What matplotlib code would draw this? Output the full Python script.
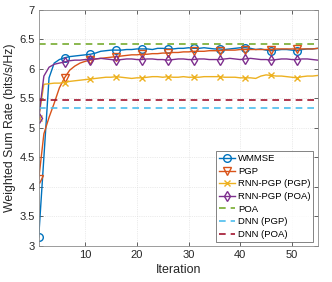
import numpy as np
import matplotlib
matplotlib.use("Agg")
import matplotlib.pyplot as plt

plt.rcParams["font.family"] = ["Liberation Sans", "DejaVu Sans"]

# ---------------------------------------------------------------------------
# data (one value per iteration, 1..55)
iterations = np.arange(1, 56)

wmmse = [3.15, 4.50, 5.85, 6.10, 6.16, 6.19, 6.21, 6.22, 6.23, 6.24,
         6.25, 6.27, 6.30, 6.31, 6.32, 6.32, 6.32, 6.33, 6.33, 6.34,
         6.34, 6.34, 6.33, 6.35, 6.35, 6.34, 6.34, 6.35, 6.35, 6.36,
         6.35, 6.35, 6.36, 6.35, 6.34, 6.34, 6.33, 6.34, 6.35, 6.36,
         6.36, 6.35, 6.33, 6.34, 6.32, 6.31, 6.32, 6.33, 6.33, 6.32,
         6.31, 6.33, 6.34, 6.34, 6.35]

pgp = [4.13, 4.90, 5.18, 5.42, 5.68, 5.85, 5.98, 6.05, 6.10, 6.13,
       6.15, 6.17, 6.18, 6.19, 6.20, 6.21, 6.22, 6.23, 6.24, 6.24,
       6.25, 6.25, 6.26, 6.26, 6.27, 6.27, 6.28, 6.28, 6.29, 6.29,
       6.30, 6.30, 6.30, 6.31, 6.31, 6.31, 6.32, 6.32, 6.32, 6.33,
       6.33, 6.33, 6.33, 6.33, 6.33, 6.33, 6.34, 6.34, 6.34, 6.34,
       6.34, 6.34, 6.34, 6.34, 6.35]

rnn_pgp_pgp = [5.17, 5.74, 5.75, 5.76, 5.76, 5.77, 5.79, 5.80, 5.81, 5.82,
               5.83, 5.84, 5.85, 5.86, 5.86, 5.87, 5.86, 5.85, 5.84, 5.85,
               5.85, 5.86, 5.87, 5.87, 5.86, 5.87, 5.86, 5.86, 5.87, 5.86,
               5.86, 5.86, 5.87, 5.87, 5.87, 5.87, 5.86, 5.86, 5.86, 5.85,
               5.85, 5.85, 5.84, 5.88, 5.90, 5.89, 5.88, 5.88, 5.87, 5.86,
               5.85, 5.87, 5.88, 5.88, 5.89]

rnn_pgp_poa = [5.17, 5.88, 6.03, 6.08, 6.10, 6.12, 6.14, 6.15, 6.15, 6.16,
               6.16, 6.17, 6.18, 6.17, 6.16, 6.15, 6.16, 6.17, 6.17, 6.16,
               6.16, 6.17, 6.17, 6.16, 6.16, 6.15, 6.16, 6.17, 6.17, 6.16,
               6.16, 6.17, 6.17, 6.16, 6.16, 6.16, 6.17, 6.18, 6.17, 6.16,
               6.17, 6.18, 6.17, 6.16, 6.16, 6.15, 6.16, 6.17, 6.17, 6.16,
               6.16, 6.17, 6.17, 6.16, 6.15]

poa = 6.43
dnn_pgp = 5.33
dnn_poa = 5.47

# MATLAB default colour order
C_BLUE, C_ORANGE, C_YELLOW = "#0072BD", "#D95319", "#EDB120"
C_PURPLE, C_GREEN, C_CYAN, C_DRED = "#7E2F8E", "#77AC30", "#4DBEEE", "#A2142F"

# ---------------------------------------------------------------------------
fig = plt.figure(figsize=(3.32, 2.82), dpi=100)
ax = fig.add_axes([0.1166, 0.128, 0.8404, 0.8365])

mk = dict(markevery=5, markerfacecolor="none", lw=1.0, mew=1.0)
ax.plot(iterations, wmmse, color=C_BLUE, marker="o", ms=5.5, label="WMMSE", **mk)
ax.plot(iterations, pgp, color=C_ORANGE, marker="v", ms=6, label="PGP", **mk)
ax.plot(iterations, rnn_pgp_pgp, color=C_YELLOW, marker="x", ms=4.5,
        label="RNN-PGP (PGP)", **mk)
ax.plot(iterations, rnn_pgp_poa, color=C_PURPLE, marker="d", ms=5.5,
        label="RNN-PGP (POA)", **mk)

dash = dict(ls=(0, (4, 3)), lw=1.2)
ax.plot(iterations, np.full(iterations.size, poa), color=C_GREEN, label="POA", **dash)
ax.plot(iterations, np.full(iterations.size, dnn_pgp), color=C_CYAN,
        label="DNN (PGP)", **dash)
ax.plot(iterations, np.full(iterations.size, dnn_poa), color=C_DRED,
        label="DNN (POA)", **dash)

ax.set_xlim(1, 55)
ax.set_ylim(3, 7)
ax.set_xticks([10, 20, 30, 40, 50])
yt = np.arange(3, 7.01, 0.5)
ax.set_yticks(yt)
ax.set_yticklabels([f"{v:g}" for v in yt])

ax.grid(True, ls=":", lw=0.5, color="#d9d9d9")
ax.tick_params(direction="in", length=3, width=0.5, labelsize=8,
               colors="#262626", top=True, right=True, pad=3)
for s in ax.spines.values():
    s.set_color("#8c8c8c")
    s.set_linewidth(0.6)

ax.set_xlabel("Iteration", fontsize=9, color="#262626", labelpad=3)
ax.set_ylabel("Weighted Sum Rate (bits/s/Hz)", fontsize=8.8, color="#262626",
              labelpad=2)

leg = ax.legend(loc="lower right", fontsize=6.8, frameon=True, fancybox=False,
                borderaxespad=0.45, handlelength=1.7, handletextpad=0.3,
                labelspacing=0.38, borderpad=0.3)
leg.get_frame().set_edgecolor("#262626")
leg.get_frame().set_linewidth(0.5)

fig.savefig("out.png", dpi=100)
